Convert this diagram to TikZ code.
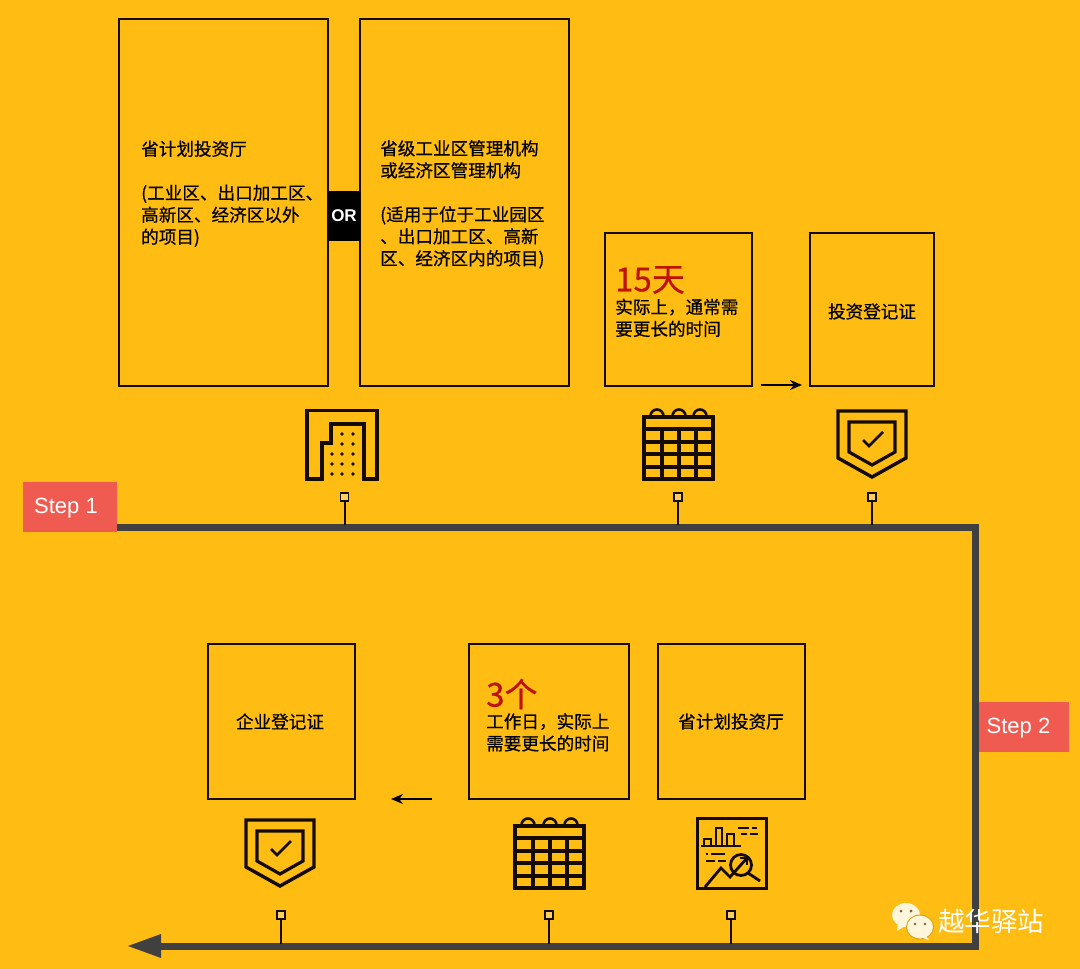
\documentclass[tikz,border=0pt]{standalone}
\usepackage{fontspec}
\setmainfont[FakeBold=0.5]{Noto Sans CJK SC}
\newfontfamily\wmfont{Noto Sans CJK SC}
\newfontfamily\latinsf{Liberation Sans}
\usetikzlibrary{arrows.meta}
\definecolor{bgy}{HTML}{FFBC13}
\definecolor{trackc}{HTML}{404040}
\definecolor{stepc}{HTML}{EF5B50}
\definecolor{redt}{HTML}{BE1200}
\definecolor{inkc}{HTML}{140C04}
\definecolor{creamc}{HTML}{FFF6DC}
\newcommand{\boxat}[5]{\node[panel,minimum width={#4-#2},minimum height={#5-#3}] (#1) at ({(#2+#4)/2},{(#3+#5)/2}) {};}
\newcommand{\pinat}[4]{%
  \node[pinhead] (#1) at (#2,#3) {};
  \coordinate (#1t) at (#2,#4);
  \draw[pinline] (#1) -- (#1t);}
\newcommand{\shieldicon}[2]{%
  \begin{scope}[shift={(#1,#2)}]
  \draw[icon,line width=3.4pt] (-34,0) -- (34,0) -- (34,47) -- (0,66) -- (-34,47) -- cycle;
  \draw[icon,line width=3.2pt] (-23,11) -- (23,11) -- (23,41) -- (0,54) -- (-23,41) -- cycle;
  \draw[icon,line width=2.8pt] (-9,29) -- (-3,35) -- (11,21);
  \end{scope}}
\newcommand{\calicon}[2]{%
  \begin{scope}[shift={(#1,#2)}]
  \draw[icon,line width=3.2pt] (0,0) rectangle (69,62);
  \foreach \yy in {12,25,37,50} \draw[icon,line width=3.2pt] (0,\yy) -- (69,\yy);
  \foreach \xx in {18,35,52} \draw[icon,line width=3.2pt] (\xx,12) -- (\xx,62);
  \foreach \xx in {13,35,56} \draw[icon,line width=2.6pt] (\xx-6.5,-1) arc[start angle=180,end angle=0,x radius=6.5,y radius=-6.5];
  \end{scope}}
\tikzset{
  x=1pt,y=-1pt,
  panel/.style={draw=inkc,line width=1.7pt,inner sep=0pt,fill=none},
  icon/.style={draw=inkc,line join=miter},
  pinhead/.style={draw=inkc,line width=1.7pt,minimum size=8pt,inner sep=0pt,fill=bgy!70!white},
  pinline/.style={draw=inkc,line width=2pt},
  track/.style={draw=trackc,line width=7pt,line join=miter},
  flow/.style={draw=black,line width=1.7pt,-{Stealth[length=12pt,width=10pt]}},
  stepbox/.style={fill=stepc,text=white,inner sep=0pt},
  steplabel/.style={text=white,inner sep=0pt,font=\latinsf\fontsize{22}{25}\selectfont},
  txt/.style={anchor=north west,inner sep=0pt,align=left,text=black,font=\fontsize{17.6}{22}\selectfont},
  bigt/.style={anchor=west,inner sep=0pt,text=redt,font=\fontsize{33}{36}\selectfont},
  ctr/.style={inner sep=0pt,text=black,font=\fontsize{17.6}{22}\selectfont},
}
\begin{document}
\begin{tikzpicture}
\path[fill=bgy] (0,0) rectangle (1080,969);
\useasboundingbox (0,0) rectangle (1080,969);

% panels
\boxat{a}{119}{19}{328}{386}
\boxat{b}{360}{19}{569}{386}
\boxat{c}{605}{233}{752}{386}
\boxat{d}{810}{233}{934}{386}
\boxat{e}{208}{644}{355}{799}
\boxat{f}{469}{644}{629}{799}
\boxat{g}{658}{644}{805}{799}
\node[fill=black,text=white,inner sep=0pt,minimum width=32pt,minimum height=50pt,font=\latinsf\bfseries\fontsize{17}{20}\selectfont] (orb) at (344,216) {OR};

% texts
\node[txt] (ta) at (141,140.5) {省计划投资厅\\[22pt](工业区、出口加工区、\\高新区、经济区以外\\的项目)};
\node[txt] (tb) at (380,140) {省级工业区管理机构\\或经济区管理机构\\[22pt](适用于位于工业园区\\、出口加工区、高新\\区、经济区内的项目)};
\node[bigt] (tc1) at (615,280) {15天};
\node[txt] (tc2) at (615,298.5) {实际上，通常需\\要更长的时间};
\node[ctr] (td) at (872,311.5) {投资登记证};
\node[ctr] (te) at (280,721.5) {企业登记证};
\node[bigt] (tf1) at (486,694) {3个};
\node[txt] (tf2) at (486,713) {工作日，实际上\\需要更长的时间};
\node[ctr] (tg) at (731,721.5) {省计划投资厅};

% arrows between panels
\coordinate (p1) at (761,385);
\coordinate (p2) at (802,385);
\coordinate (p3) at (432,799);
\coordinate (p4) at (391,799);
\draw[flow] (p1) -- (p2);
\draw[flow] (p3) -- (p4);

% track
\node[stepbox,minimum width=94pt,minimum height=50pt] (s1) at (70,507) {};
\node[steplabel] (s1t) at (66,508) {Step 1};
\coordinate (tr1) at (975,527);
\coordinate (tr2) at (975,946);
\coordinate (tr3) at (155,946);
\draw[track] (s1.east |- tr1) -- (tr1) -- (tr2) -- (tr3);
\coordinate (tip) at (128,946);
\fill[trackc] (tip) -- (161,934) -- (161,958) -- cycle;
\node[stepbox,minimum width=90pt,minimum height=50pt] (s2) at (1024,727) {};
\node[steplabel] (s2t) at (1018.5,728) {Step 2};

% pins
\pinat{k1}{344.5}{497}{525}
\pinat{k2}{678}{497}{525}
\pinat{k3}{872}{497}{525}
\pinat{k4}{281}{915}{944}
\pinat{k5}{549}{915}{944}
\pinat{k6}{731}{915}{944}

% building icon
\draw[icon,line width=3.4pt] (307,479) -- (307,410.5) -- (377,410.5) -- (377,479) -- (364,479) -- (364,424) -- (331,424) -- (331,443) -- (322,443) -- (322,479) -- cycle;
\foreach \xx in {342,353} \foreach \yy in {434,444} \fill[inkc] (\xx,\yy) circle[radius=1.8];
\foreach \xx in {332,342,353} \foreach \yy in {454,464,474} \fill[inkc] (\xx,\yy) circle[radius=1.8];

% other icons
\calicon{644}{417}
\calicon{515}{826}
\shieldicon{872}{411}
\shieldicon{280}{820}

% chart icon
\begin{scope}[shift={(697,818)}]
\draw[icon,line width=3pt] (0,0) rectangle (69,70);
\draw[icon,line width=2.8pt] (4,28) -- (44,28);
\draw[icon,line width=2.6pt] (7,28) -- (7,21) -- (14,21) -- (14,28);
\draw[icon,line width=2.6pt] (19,28) -- (19,10) -- (25,10) -- (25,28);
\draw[icon,line width=2.6pt] (30,28) -- (30,16) -- (37,16) -- (37,28);
\draw[icon,line width=2.4pt] (41,10) -- (52,10) (55,10) -- (60,10) (44,16) -- (50,16) (53,16) -- (61,16);
\draw[icon,line width=2.4pt] (9,36) -- (11,36) (14,36) -- (28,36) (9,43) -- (18,43) (21,43) -- (29,43);
\draw[icon,line width=2.8pt] (44,47) circle[radius=10.5];
\draw[icon,line width=2.8pt] (51,55) -- (63,63);
\draw[icon,line width=2.8pt] (8,69) -- (24,50) -- (33,59) -- (50,40);
\draw[icon,line width=2.6pt] (43,40) -- (50,40) -- (50,47);
\end{scope}

% watermark
\begin{scope}[shift={(892,903)}]
\fill[creamc] (14,12) ellipse[x radius=14,y radius=12];
\fill[creamc] (6,20) -- (5,28) -- (13,23) -- cycle;
\fill[bgy!85!black] (28,24) ellipse[x radius=14,y radius=12.5];
\fill[creamc] (28,24) ellipse[x radius=13,y radius=11.5];
\fill[creamc] (33,32) -- (37,37) -- (28,34) -- cycle;
\fill[trackc!70!bgy] (9,8) circle[radius=1.5] (19,8) circle[radius=1.5] (23,21) circle[radius=1.4] (33,21) circle[radius=1.4];
\end{scope}
\node[inner sep=0pt,text=white,font=\wmfont\fontsize{26.5}{30}\selectfont] (wm) at (991,921) {越华驿站};
\end{tikzpicture}
\end{document}
